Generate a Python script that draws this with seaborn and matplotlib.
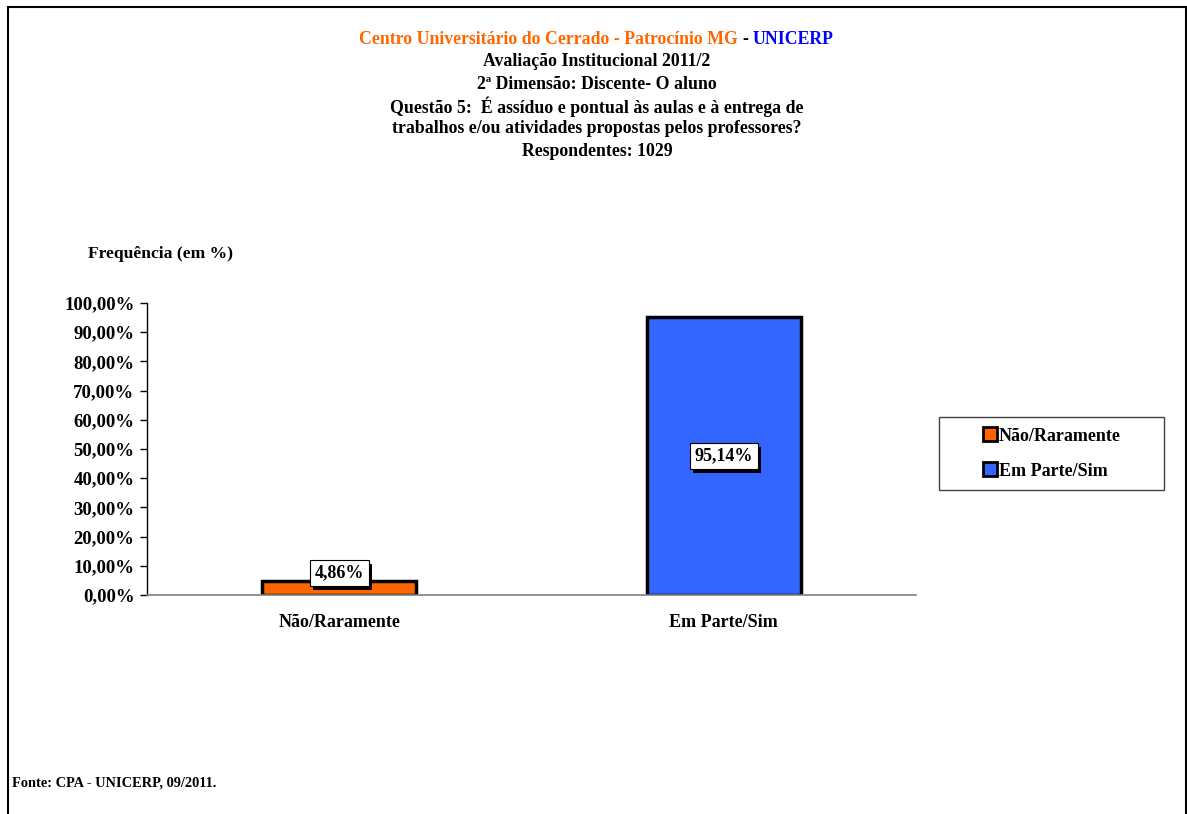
import matplotlib
matplotlib.use("Agg")
import matplotlib.pyplot as plt
import matplotlib.patheffects as pe
import numpy as np
import pandas as pd
import seaborn as sns
from matplotlib.lines import Line2D
from matplotlib.patches import Rectangle

categories = ["Não/Raramente", "Em Parte/Sim"]
values = [4.86, 95.14]
colors = ["#FF6600", "#3366FF"]
value_labels = ["4,86%", "95,14%"]
yticks = np.arange(0, 101, 10)

title_lines = [
    "Avaliação Institucional 2011/2",
    "2ª Dimensão: Discente- O aluno",
    "Questão 5:  É assíduo e pontual às aulas e à entrega de",
    "trabalhos e/ou atividades propostas pelos professores?",
    "Respondentes: 1029",
]

sns.set_theme(style="white")
plt.rcParams["font.family"] = ["Liberation Serif", "DejaVu Serif"]
plt.rcParams["font.weight"] = "bold"

W, H = 1187, 814
fig = plt.figure(figsize=(W / 100, H / 100), dpi=100)
fig.patch.set_facecolor("white")


def fx(px):
    return px / W


def fy(py):
    return 1 - py / H


# outer frame (bottom edge is cut off in the original)
fig.add_artist(Rectangle((fx(8), fy(830)), fx(1186 - 8), (830 - 7) / H,
                         transform=fig.transFigure, fill=False,
                         edgecolor="black", linewidth=1.5))

ax = fig.add_axes([fx(147), fy(595), fx(916 - 147), (595 - 303) / H])

df = pd.DataFrame({"cat": categories, "val": values})
sns.barplot(data=df, x="cat", y="val", hue="cat", palette=colors, saturation=1,
            width=0.4, edgecolor="black", linewidth=2.5, legend=False, ax=ax)

ax.set_xlim(-0.5, 1.5)
ax.set_ylim(0, 100)
ax.set_yticks(yticks)
ax.set_yticklabels([f"{v:.2f}%".replace(".", ",") for v in yticks],
                   fontsize=13.5, fontweight="bold", color="black")
ax.set_xticks([0, 1])
ax.set_xticklabels(categories, fontsize=13, fontweight="bold", color="black")
ax.set_xticks([-0.5, 0.5, 1.5], minor=True)
ax.tick_params(axis="x", which="major", length=0, pad=14)
ax.tick_params(axis="x", which="minor", length=5, color="#808080", width=1, direction="out")
ax.tick_params(axis="y", length=5, width=1, color="black", direction="out", left=True, pad=4)
ax.set_xlabel("")
ax.set_ylabel("")
for s in ["top", "right"]:
    ax.spines[s].set_visible(False)
ax.spines["left"].set_color("black")
ax.spines["left"].set_linewidth(1)
ax.spines["bottom"].set_color("#808080")
ax.spines["bottom"].set_linewidth(1.2)

# value labels in white boxes with a drop shadow
for i, (v, lab) in enumerate(zip(values, value_labels)):
    y = max(v / 2, 7.5)
    t = ax.text(i, y, lab, ha="center", va="center", fontsize=13, fontweight="bold",
                color="black",
                bbox=dict(boxstyle="square,pad=0.25", facecolor="white",
                          edgecolor="black", linewidth=0.8))
    t.get_bbox_patch().set_path_effects([
        pe.SimplePatchShadow(offset=(2.5, -2.5), shadow_rgbFace="black", alpha=1),
        pe.Normal(),
    ])

# legend: frame drawn separately so the entries sit indented like the original
fig.add_artist(Rectangle((fx(939), fy(490)), fx(1164 - 939), (490 - 417) / H,
                         transform=fig.transFigure, fill=False,
                         edgecolor="#404040", linewidth=1))
handles = [Line2D([0], [0], marker="s", linestyle="none", markersize=10,
                  markerfacecolor=c, markeredgecolor="black", markeredgewidth=2)
           for c in colors]
leg = fig.legend(handles, categories, loc="upper left",
                 bbox_to_anchor=(fx(978), fy(424)), frameon=False,
                 borderaxespad=0, prop={"size": 13, "weight": "bold"},
                 handletextpad=0.05, labelspacing=1.0, borderpad=0.2,
                 handlelength=0.9, handleheight=0.7)
for t in leg.get_texts():
    t.set_color("black")

# titles
fig.text(fx(738), fy(40), "Centro Universitário do Cerrado - Patrocínio MG", color="#FF6600",
         ha="right", va="center", fontsize=12.8, fontweight="bold")
fig.text(fx(745), fy(40), "-", color="black", ha="center", va="center",
         fontsize=12.8, fontweight="bold")
fig.text(fx(753), fy(40), "UNICERP", color="#0000FF", ha="left", va="center",
         fontsize=12.8, fontweight="bold")
for k, line in enumerate(title_lines):
    fig.text(fx(597), fy(62 + k * 22.3), line, ha="center", va="center",
             fontsize=12.8, fontweight="bold", color="black")

fig.text(fx(88), fy(254), "Frequência (em %)", ha="left", va="center",
         fontsize=12.6, fontweight="bold", color="black")
fig.text(fx(12), fy(783), "Fonte: CPA - UNICERP, 09/2011.", ha="left", va="center",
         fontsize=10.4, fontweight="bold", color="black")

fig.savefig("out.png", dpi=100, facecolor="white")
